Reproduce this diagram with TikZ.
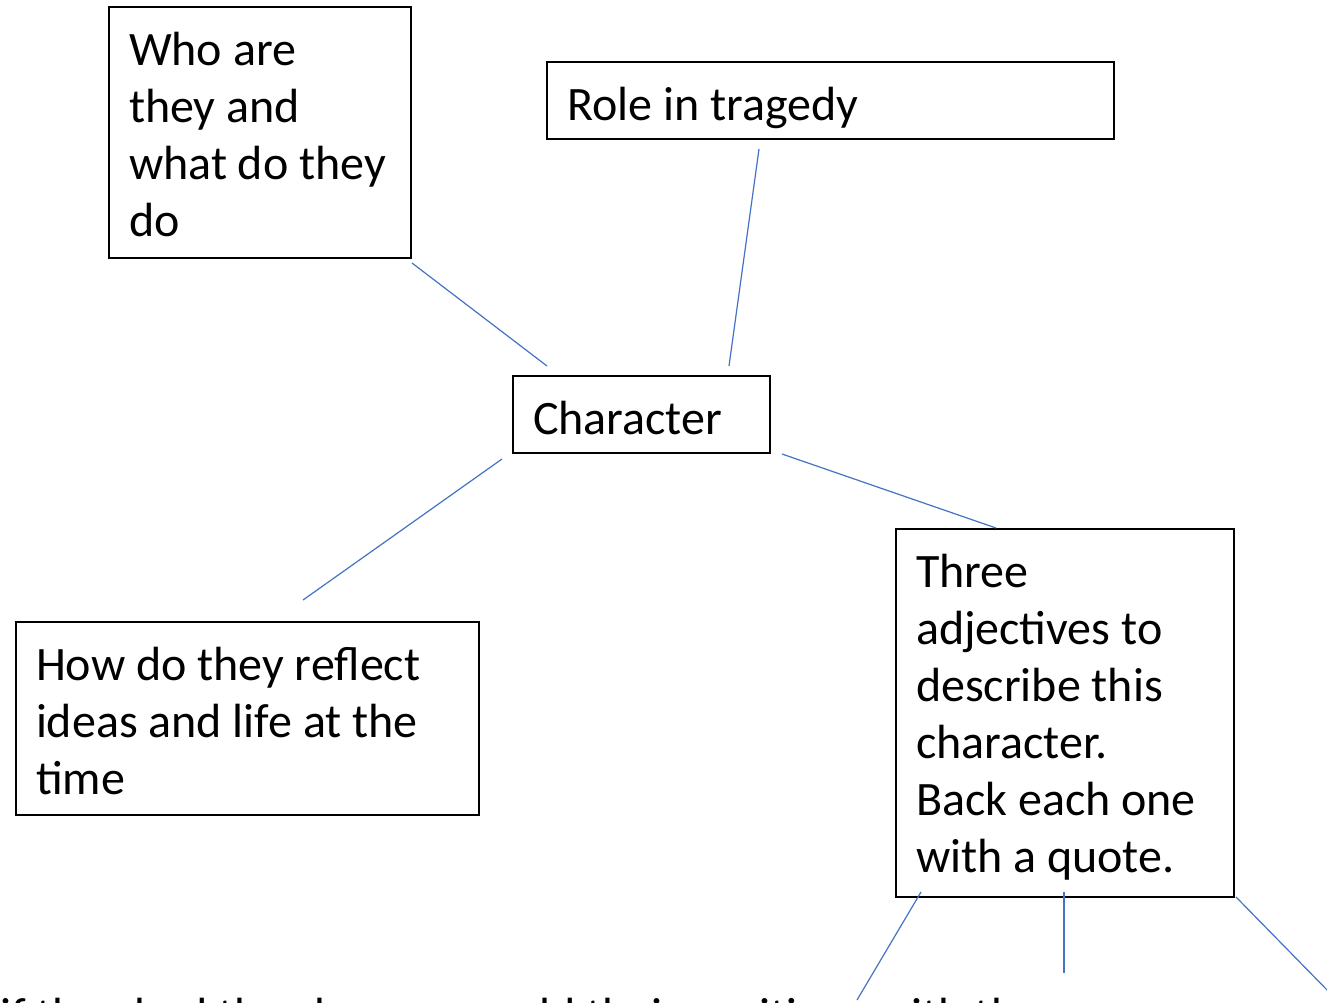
\documentclass[tikz,border=0pt]{standalone}
\usepackage{fontspec}
\setmainfont{Carlito}
\definecolor{lineblue}{RGB}{68,114,196}
\newcommand\boxtxt[3]{\parbox[t][#2][t]{#1}{\raggedright\rule{0pt}{58pt}#3}}
\begin{document}
\begin{tikzpicture}[x=1pt,y=-1pt,
  box/.style={draw=black, line width=1.3pt, anchor=north west, inner xsep=20pt, inner ysep=0pt, outer sep=0pt,
    font=\fontsize{48pt}{57pt}\selectfont},
  conn/.style={draw=lineblue, line width=1.2pt}]
\useasboundingbox (0,0) rectangle (1327,1002);
\clip (0,0) rectangle (1327,1002);
\fill[white] (0,0) rectangle (1327,1002);

\node[box] (who) at (109,7) {\boxtxt{262pt}{251pt}{Who are\\they and\\what do they\\do}};
\node[box] (role) at (547,62) {\boxtxt{527pt}{77pt}{Role in tragedy}};
\node[box] (char) at (513,376) {\boxtxt{217pt}{77pt}{Character}};
\node[box] (how) at (16,622) {\boxtxt{423pt}{193pt}{How do they reflect\\ideas and life at the\\time}};
\node[box] (three) at (896,529) {\boxtxt{298pt}{368pt}{Three\\adjectives to\\describe this\\character.\\Back each one\\with a quote.}};

\node[anchor=base west, inner sep=0pt, font=\fontsize{48pt}{57pt}\selectfont] (foot) at (0,1031) {if they had the chance, would their positions with the};

\coordinate (a1) at (412,263); \coordinate (a2) at (547,366);
\coordinate (b1) at (759,149); \coordinate (b2) at (729,366);
\coordinate (c1) at (502,459); \coordinate (c2) at (303,600);
\coordinate (d1) at (782,454); \coordinate (d2) at (996,528);
\coordinate (e1) at (921,892); \coordinate (e2) at (857,1000);
\coordinate (f1) at (1064,892); \coordinate (f2) at (1064,973);
\coordinate (g1) at (1236,897); \coordinate (g2) at (1331,994);

\draw[conn] (a1) -- (a2);
\draw[conn] (b1) -- (b2);
\draw[conn] (c1) -- (c2);
\draw[conn] (d1) -- (d2);
\draw[conn] (e1) -- (e2);
\draw[conn] (f1) -- (f2);
\draw[conn] (g1) -- (g2);
\end{tikzpicture}
\end{document}
